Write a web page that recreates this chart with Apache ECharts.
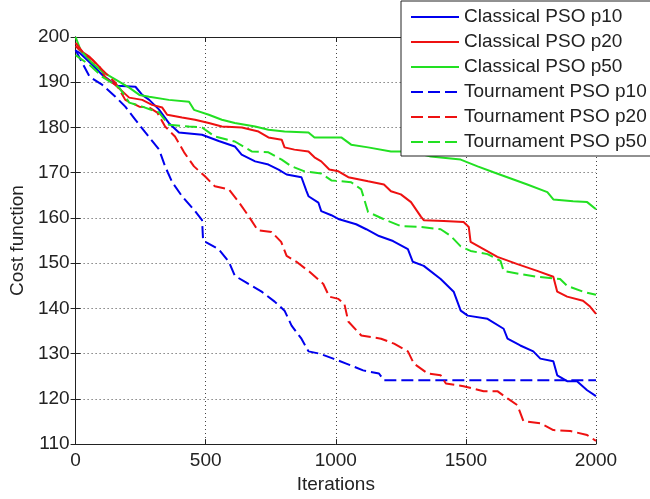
<!DOCTYPE html>
<html><head><meta charset="utf-8">
<script src="https://cdn.jsdelivr.net/npm/echarts@6/dist/echarts.min.js"></script>
<style>html,body{margin:0;padding:0;background:#fff}#c{width:650px;height:499px}</style>
</head><body><div id="c"></div>
<script>
var seriesNames = ['Classical PSO p10','Classical PSO p20','Classical PSO p50','Tournament PSO p10','Tournament PSO p20','Tournament PSO p50'];
var xTicks = [0,500,1000,1500,2000];
var yTicks = [110,120,130,140,150,160,170,180,190,200];

var classicalP10 = [[0,197],[15,196.5],[65,193.8],[103,191.6],[160,189.2],[230,189],[256,187.2],[283,186.1],[320,184],[358,181],[397,178.9],[486,178.4],[550,177],[612,175.8],[638,174],[690,172.5],[741,171.8],[780,170.7],[811,169.6],[868,169],[887,166],[895,164.8],[933,163.4],[944,161.5],[983,160.6],[1013,159.7],[1078,158.6],[1117,157.5],[1166,156],[1220,154.9],[1277,153.1],[1296,150.3],[1338,149.4],[1403,146.5],[1453,143.7],[1480,139.5],[1507,138.4],[1583,137.7],[1645,135.5],[1660,133.3],[1709,131.8],[1759,130.5],[1786,128.9],[1836,128.3],[1851,125.2],[1889,123.9],[1927,123.9],[1966,121.9],[2000,120.6]];
var classicalP20 = [[0,198],[15,197.1],[54,195.6],[92,193.4],[115,191],[153,189.4],[206,186.6],[256,186.1],[294,185],[333,184.4],[352,182.8],[409,182.2],[459,181.7],[512,181],[562,180.2],[639,180],[703,179.1],[741,177.8],[792,177.3],[803,175.6],[841,175.1],[895,174.7],[918,173.4],[944,172.5],[975,170.7],[1010,170.3],[1048,169],[1124,168.1],[1185,167.4],[1212,165.9],[1250,165.2],[1289,163.5],[1327,160.3],[1338,159.5],[1415,159.3],[1491,159.1],[1511,158],[1518,154.7],[1568,153.1],[1621,151.4],[1698,149.8],[1774,148.3],[1836,147],[1851,143.7],[1889,142.6],[1950,141.7],[1977,140.4],[2000,138.8]];
var classicalP50 = [[0,200],[20,197],[60,194.5],[103,192.3],[141,191],[206,188.8],[245,187.2],[283,186.8],[358,186.1],[436,185.7],[455,183.9],[512,182.8],[562,181.7],[612,181],[690,180.2],[741,179.5],[803,179.1],[895,178.9],[918,177.8],[1021,177.8],[1059,176.2],[1124,175.6],[1212,174.7],[1289,174.7],[1365,173.6],[1480,172.9],[1545,171.4],[1606,170.1],[1683,168.5],[1736,167.4],[1813,165.7],[1836,164.1],[1912,163.7],[1966,163.5],[2000,161.9]];
var tournamentP10 = [[0,197.1],[54,191.2],[103,189.4],[153,186.8],[191,184.6],[230,181.7],[268,178.9],[321,175.1],[344,171.4],[371,167.9],[409,164.8],[459,161.5],[486,159.5],[490,155],[550,153.1],[589,150.3],[612,147.2],[650,145.9],[715,143.7],[765,141.5],[803,139.5],[830,136.2],[868,133.3],[895,130.5],[937,130],[990,128.9],[1040,127.8],[1105,126.3],[1166,125.6],[1185,124.1],[2000,124.1]];
var tournamentP20 = [[0,198.7],[27,196.7],[65,194.9],[103,192.7],[153,189.9],[191,186.1],[245,184.6],[283,184.4],[314,183.3],[344,180.2],[382,178],[417,174.5],[455,171.4],[497,169.2],[535,167],[589,166.3],[627,163.5],[665,160.4],[700,157.3],[753,156.9],[790,154.7],[811,151.6],[849,150.3],[899,148.1],[952,145.4],[975,142.6],[1010,142.1],[1033,141],[1048,137.1],[1098,134],[1174,133.3],[1224,132.2],[1277,130.5],[1300,127.8],[1354,125.6],[1403,125.2],[1423,123.4],[1491,122.8],[1568,121.7],[1621,121.7],[1660,120.1],[1698,118.6],[1721,115.1],[1786,114.6],[1836,113.1],[1901,112.9],[1966,112],[2000,110.7]];
var tournamentP50 = [[0,196],[54,193.8],[103,191.2],[168,188.8],[206,185.5],[256,184.6],[321,183.3],[358,180.6],[436,180.2],[486,180],[535,178],[612,176.9],[677,174.7],[741,174.5],[792,172.9],[830,171.4],[880,170.3],[944,169.8],[983,168.3],[1059,167.9],[1098,166.3],[1124,161.3],[1185,159.7],[1250,158.2],[1327,158],[1403,157.5],[1442,156],[1480,153.7],[1518,152.7],[1583,152],[1633,150.5],[1645,148.3],[1709,147.6],[1774,147],[1862,146.5],[1889,145],[1950,143.7],[2000,143]];

var allData = [classicalP10, classicalP20, classicalP50, tournamentP10, tournamentP20, tournamentP50];
var colors = ['#0000ee','#ee1111','#22e022','#0000ee','#ee1111','#22e022'];
var font = 'Liberation Sans, Arial, sans-serif';
var txt = '#222';

var chart = echarts.init(document.getElementById('c'), null, {renderer:'canvas'});
var series = allData.map(function(d,i){
  return {
    name: seriesNames[i], type:'line', data:d, symbol:'none', animation:false,
    xAxisIndex:0, yAxisIndex:0,
    lineStyle:{color:colors[i], width:2, type: i>=3 ? [12,5] : 'solid'},
    itemStyle:{color:colors[i]}
  };
});
var axCommon = {
  axisLine:{show:true, lineStyle:{color:'#222', width:1}},
  axisTick:{show:true, inside:true, length:5, lineStyle:{color:'#222'}}
};
chart.setOption({
  backgroundColor:'#fff',
  animation:false,
  grid:{left:73, right:54, top:37, bottom:53, show:false},
  legend:{
    orient:'vertical', left:401, top:1, width:240,
    backgroundColor:'#fff', borderColor:'#222', borderWidth:1,
    padding:[6,4,4,9], itemWidth:48, itemHeight:12, itemGap:5,
    itemStyle:{opacity:0},
    textStyle:{fontFamily:font, fontSize:19, color:txt, lineHeight:20},
    data: seriesNames.map(function(n){return {name:n};}),
    selectedMode:false
  },
  xAxis:[
    Object.assign({type:'value', min:0, max:2000, interval:500, position:'bottom',
      name:'Iterations', nameLocation:'middle', nameGap:29,
      nameTextStyle:{fontFamily:font, fontSize:19, color:txt},
      axisLabel:{fontFamily:font, fontSize:19, color:txt, margin:7, formatter:function(v){return String(v);}},
      splitLine:{show:true, lineStyle:{color:'#444', type:[1,3], width:1}}}, axCommon),
    Object.assign({type:'value', min:0, max:2000, interval:500, position:'top',
      axisLabel:{show:false}, splitLine:{show:false}}, axCommon)
  ],
  yAxis:[
    Object.assign({type:'value', min:110, max:200, interval:10, position:'left',
      name:'Cost function', nameLocation:'middle', nameGap:46,
      nameTextStyle:{fontFamily:font, fontSize:19, color:txt},
      axisLabel:{fontFamily:font, fontSize:19, color:txt, margin:6, formatter:function(v){return String(v);}},
      splitLine:{show:true, lineStyle:{color:'#444', type:[1,3], width:1}}}, axCommon),
    Object.assign({type:'value', min:110, max:200, interval:10, position:'right',
      axisLabel:{show:false}, splitLine:{show:false}}, axCommon)
  ],
  series: series
});
</script></body></html>
